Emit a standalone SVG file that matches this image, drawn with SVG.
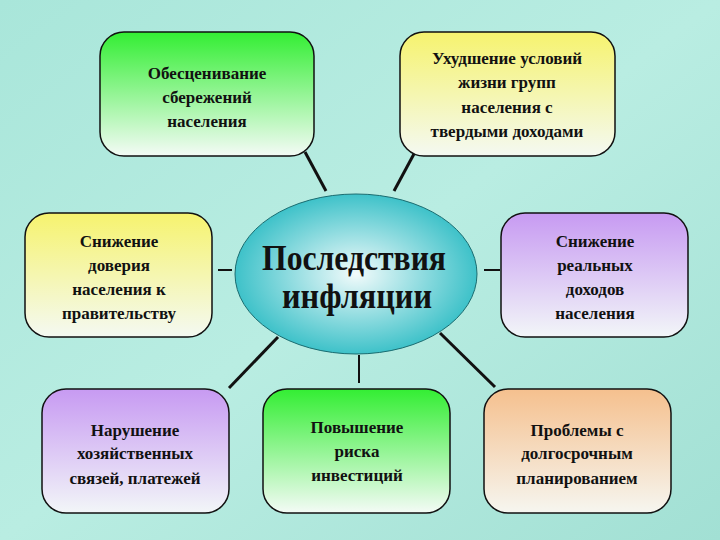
<svg xmlns="http://www.w3.org/2000/svg" width="720" height="540" viewBox="0 0 720 540">
<defs>
<linearGradient id="bg" x1="0" y1="0" x2="1" y2="1"><stop offset="0" stop-color="#a9e6da"/><stop offset="0.5" stop-color="#b9ede2"/><stop offset="1" stop-color="#a2e0d4"/></linearGradient>
<linearGradient id="gGreen" x1="0" y1="0" x2="0" y2="1"><stop offset="0" stop-color="#33ee33"/><stop offset="1" stop-color="#f4fbf6"/></linearGradient>
<linearGradient id="gYellow" x1="0" y1="0" x2="0" y2="1"><stop offset="0" stop-color="#f6f36e"/><stop offset="1" stop-color="#f4f9f2"/></linearGradient>
<linearGradient id="gPurple" x1="0" y1="0" x2="0" y2="1"><stop offset="0" stop-color="#c79af2"/><stop offset="1" stop-color="#f2f6f8"/></linearGradient>
<linearGradient id="gOrange" x1="0" y1="0" x2="0" y2="1"><stop offset="0" stop-color="#f5c08e"/><stop offset="1" stop-color="#f6f6f0"/></linearGradient>
<radialGradient id="gEll" cx="0.5" cy="0.5" r="0.55"><stop offset="0" stop-color="#f2fbfb"/><stop offset="1" stop-color="#2cbcc4"/></radialGradient>
<style>
.box{stroke:#111;stroke-width:1.5}
.t{font-family:"Liberation Serif",serif;font-weight:bold;font-size:17px;fill:#111;text-anchor:middle}
.title{font-family:"Liberation Serif",serif;font-weight:bold;font-size:36px;fill:#111;text-anchor:middle}
#connectors line{stroke:#111;stroke-width:3}
</style>
</defs>
<rect width="720" height="540" fill="url(#bg)"/>
<g id="connectors">
<line x1="305" y1="152" x2="326" y2="191"/>
<line x1="415" y1="152" x2="394" y2="191"/>
<line x1="218" y1="270" x2="232" y2="270" style="stroke-width:2"/>
<line x1="484" y1="270" x2="500" y2="270" style="stroke-width:2"/>
<line x1="278" y1="337" x2="229" y2="388"/>
<line x1="359" y1="355" x2="359" y2="383" style="stroke-width:2"/>
<line x1="440" y1="333" x2="495" y2="387"/>
</g>
<g id="center"><ellipse cx="356" cy="274" rx="121" ry="80" fill="url(#gEll)" stroke="#1a6c70" stroke-width="1"/>
<text class="title" x="354" y="270" textLength="184" lengthAdjust="spacingAndGlyphs">Последствия</text><text class="title" x="357" y="308" textLength="150" lengthAdjust="spacingAndGlyphs">инфляции</text></g>
<g id="n1"><rect class="box" x="100" y="32" width="214" height="124" rx="24" fill="url(#gGreen)"/>
<text class="t" x="207" y="79">Обесценивание</text><text class="t" x="207" y="103">сбережений</text><text class="t" x="207" y="127">населения</text></g>
<g id="n2"><rect class="box" x="400" y="32" width="215" height="124" rx="24" fill="url(#gYellow)"/>
<text class="t" x="507" y="64">Ухудшение условий</text><text class="t" x="507" y="88">жизни групп</text><text class="t" x="507" y="113">населения с</text><text class="t" x="507" y="137">твердыми доходами</text></g>
<g id="n3"><rect class="box" x="25" y="213" width="187" height="124" rx="24" fill="url(#gYellow)"/>
<text class="t" x="119" y="247">Снижение</text><text class="t" x="119" y="271">доверия</text><text class="t" x="119" y="295">населения к</text><text class="t" x="119" y="319">правительству</text></g>
<g id="n4"><rect class="box" x="501" y="213" width="187" height="124" rx="24" fill="url(#gPurple)"/>
<text class="t" x="595" y="247">Снижение</text><text class="t" x="595" y="271">реальных</text><text class="t" x="595" y="295">доходов</text><text class="t" x="595" y="319">населения</text></g>
<g id="n5"><rect class="box" x="42" y="389" width="187" height="124" rx="24" fill="url(#gPurple)"/>
<text class="t" x="135" y="436">Нарушение</text><text class="t" x="135" y="459">хозяйственных</text><text class="t" x="135" y="484">связей, платежей</text></g>
<g id="n6"><rect class="box" x="263" y="389" width="187" height="124" rx="24" fill="url(#gGreen)"/>
<text class="t" x="357" y="433">Повышение</text><text class="t" x="357" y="457">риска</text><text class="t" x="357" y="481">инвестиций</text></g>
<g id="n7"><rect class="box" x="484" y="389" width="187" height="124" rx="24" fill="url(#gOrange)"/>
<text class="t" x="577" y="436">Проблемы с</text><text class="t" x="577" y="459">долгосрочным</text><text class="t" x="577" y="484">планированием</text></g>
</svg>
